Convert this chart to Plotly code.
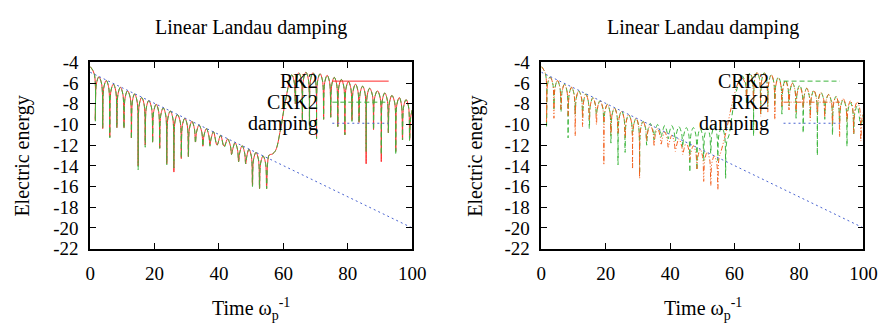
import plotly.graph_objects as go

# ---------------- data ----------------
x_ticks = [0, 20, 40, 60, 80, 100]
x_tick_text = ["0", "20", "40", "60", "80", "100"]
y_ticks = [-22, -20, -18, -16, -14, -12, -10, -8, -6, -4]
y_tick_text = ["-22", "-20", "-18", "-16", "-14", "-12", "-10", "-8", "-6", "-4"]

damp_t = [0, 100]
damp_e = [-4.95, -20.0]

# Left panel (RK2 vs CRK2) – alternating peaks / troughs
left_t = [0, 1.6, 2.7, 3.9, 5.0, 6.1, 7.2, 8.3, 9.4, 10.5,
          11.6, 12.8, 13.8, 14.9, 16.0, 17.1, 18.2, 19.4, 20.5, 21.6,
          22.7, 23.8, 24.9, 26.0, 27.1, 28.3, 29.4, 30.5, 31.6, 32.7,
          33.8, 35.0, 36.1, 37.2, 38.3, 39.4, 40.5, 41.6, 42.7, 43.9,
          45.0, 46.1, 47.2, 48.3, 49.3, 50.4, 51.5, 52.6, 53.7, 54.8,
          55.6, 56.6, 57.6, 59.1, 60.6, 62.6,
          63.7, 64.8, 65.9, 67.0, 68.1, 69.2, 70.3, 71.4, 72.5, 73.6,
          74.7, 75.8, 76.9, 78.0, 79.1, 80.2, 81.3, 82.4, 83.5, 84.6,
          85.7, 86.8, 88.0, 89.2, 90.4, 91.5, 92.6, 93.7, 94.9, 96.0,
          97.0, 98.1, 99.2, 100]
left_rk2 = [-4.4, -9.6, -5.4, -10.4, -5.75, -11.2, -6.1, -10.3, -6.4, -10.3,
            -6.75, -11.3, -7.05, -14.0, -7.4, -12.0, -7.7, -11.7, -8.05, -12.3,
            -8.4, -13.8, -8.7, -14.6, -9.05, -13.3, -9.4, -13.1, -9.7, -11.7,
            -10.05, -12.1, -10.4, -12.0, -10.7, -12.0, -11.05, -12.1, -11.4, -12.9,
            -11.75, -13.6, -12.05, -13.8, -12.4, -15.9, -12.7, -16.2, -13.05, -16.2,
            -12.95, -12.85, -12.5, -10.5, -7.8, -5.2,
            -8.0, -5.0, -9.6, -4.95, -10.2, -5.0, -11.3, -5.1, -9.5, -5.25,
            -9.3, -5.45, -10.2, -5.65, -11.0, -5.85, -9.6, -6.1, -9.8, -6.3,
            -13.8, -6.5, -10.5, -6.75, -13.6, -6.95, -10.8, -7.2, -12.6, -7.4,
            -11.5, -7.6, -11.5, -8.6]
left_crk2 = [-4.4, -9.7, -5.4, -10.3, -5.75, -11.3, -6.1, -10.3, -6.4, -10.4,
             -6.75, -11.4, -7.05, -14.4, -7.4, -12.2, -7.7, -11.8, -8.05, -12.3,
             -8.4, -13.9, -8.7, -14.2, -9.05, -13.2, -9.4, -13.1, -9.7, -11.8,
             -10.05, -12.1, -10.4, -12.1, -10.7, -12.0, -11.05, -12.2, -11.4, -12.9,
             -11.75, -13.6, -12.05, -13.8, -12.4, -16.0, -12.7, -16.2, -13.05, -16.2,
             -12.95, -12.85, -12.5, -10.5, -7.8, -5.2,
             -8.0, -5.0, -9.6, -4.95, -10.3, -5.0, -11.4, -5.1, -9.5, -5.25,
             -9.3, -5.45, -10.2, -5.65, -11.0, -5.85, -9.7, -6.1, -9.8, -6.3,
             -12.6, -6.5, -10.5, -6.75, -12.9, -6.95, -10.8, -7.2, -12.9, -7.4,
             -11.5, -7.6, -11.6, -8.6]

# Right panel
right_rk2_t = [0, 1.6, 2.7, 3.9, 5.0, 6.1, 7.2, 8.3, 9.4, 10.5,
               11.6, 12.8, 13.8, 14.9, 16.0, 17.1, 18.2, 19.4, 20.5, 21.6,
               22.7, 23.8, 24.9, 26.0, 27.1, 28.3, 29.4, 30.5, 31.6, 32.7,
               33.8, 35.0, 36.1, 37.2, 38.3, 39.4, 40.5, 41.6, 42.7, 43.9,
               45.0, 46.1, 47.2, 48.3, 49.3, 50.4, 51.5, 52.6, 53.7, 54.8,
               55.8, 57.5, 59.0, 60.5, 62.0,
               63.7, 64.8, 65.9, 67.0, 68.1, 69.2, 70.3, 71.4, 72.5, 73.6,
               74.7, 75.8, 76.9, 78.0, 79.1, 80.2, 81.3, 82.4, 83.5, 84.6,
               85.7, 86.8, 88.0, 89.2, 90.4, 91.5, 92.6, 93.7, 94.9, 96.0,
               97.0, 98.1, 99.2, 100]
right_rk2 = [-4.4, -9.8, -5.4, -9.4, -5.75, -8.6, -6.1, -9.2, -6.4, -11.1,
             -6.75, -10.2, -7.05, -9.6, -7.4, -10.0, -7.7, -13.9, -8.05, -11.0,
             -8.4, -10.9, -8.7, -11.3, -9.05, -14.3, -9.4, -15.2, -9.7, -11.6,
             -10.05, -12.1, -10.4, -11.9, -10.7, -12.2, -11.05, -12.6, -11.4, -12.9,
             -11.75, -13.4, -12.05, -14.3, -12.4, -15.5, -12.7, -15.9, -13.05, -16.3,
             -12.6, -10.5, -8.3, -6.5, -5.4,
             -7.5, -5.1, -8.5, -5.0, -9.2, -5.0, -8.8, -5.2, -9.5, -5.5,
             -8.3, -5.8, -8.6, -6.0, -8.9, -6.3, -8.4, -6.5, -9.6, -6.7,
             -9.0, -6.9, -9.3, -7.1, -10.0, -7.3, -11.2, -7.5, -9.7, -7.7,
             -10.9, -7.8, -11.6, -8.8]
right_crk2_t = [0, 1.6, 2.7, 3.9, 5.0, 6.1, 7.2, 8.3, 9.4, 10.5,
                11.6, 12.8, 13.8, 14.9, 16.0, 17.1, 18.2, 19.4, 20.5, 21.6,
                22.7, 23.8, 24.9, 26.0, 27.1, 28.3, 29.4, 30.5, 31.6, 32.7,
                33.8, 35.0, 36.1, 37.2, 38.3, 39.4, 40.5, 41.6, 42.7, 43.9,
                45.0, 46.1, 47.2, 48.3, 49.3, 50.4, 51.5, 52.6, 53.7, 54.8,
                56.0, 57.2, 58.3, 59.5, 60.8, 62.3,
                63.7, 64.8, 65.9, 67.0, 68.1, 69.2, 70.3, 71.4, 72.5, 73.6,
                74.7, 75.8, 76.9, 78.0, 79.1, 80.2, 81.3, 82.4, 83.5, 84.6,
                85.7, 86.8, 88.0, 89.2, 90.4, 91.5, 92.6, 93.7, 94.9, 96.0,
                97.0, 98.1, 99.2, 100]
right_crk2 = [-4.4, -10.3, -5.4, -8.5, -5.75, -8.8, -6.1, -11.3, -6.4, -9.0,
              -6.75, -9.2, -7.05, -10.4, -7.4, -9.0, -7.7, -9.8, -8.05, -11.8,
              -8.4, -13.9, -8.7, -12.7, -9.05, -11.0, -9.4, -14.8, -9.7, -12.0,
              -9.9, -11.5, -10.0, -11.2, -10.1, -11.4, -10.1, -11.6, -10.2, -12.2,
              -10.3, -14.6, -10.3, -14.4, -10.4, -13.5, -10.3, -12.8, -10.2, -13.5,
              -10.3, -15.2, -11.0, -8.5, -6.5, -5.3,
              -8.0, -5.0, -11.1, -4.95, -9.0, -5.0, -8.3, -5.2, -8.0, -5.4,
              -9.0, -5.7, -8.2, -6.0, -9.4, -6.2, -10.8, -6.5, -9.0, -6.7,
              -13.0, -6.9, -9.5, -7.1, -11.0, -7.3, -9.8, -7.6, -12.1, -7.9,
              -10.9, -8.2, -10.0, -9.0]

for a, b in [(left_t, left_rk2), (left_t, left_crk2),
             (right_rk2_t, right_rk2), (right_crk2_t, right_crk2)]:
    assert len(a) == len(b), (len(a), len(b))

# ---------------- style ----------------
RED = "#ff2a2a"
GREEN = "#3db53d"
BLUE = "#4a64d0"
ORANGE = "#f2601e"
FONT = "Times New Roman, Liberation Serif, serif"
DASH_GREEN = "5px,3px"
DASH_DOT = "2px,3px"
DASH_ORANGE = "5px,2px,1px,2px,1px,2px"
CUSP_HALF = 0.33   # drawing width of a cusp's narrow part (time units)
CUSP_DROP = 0.7    # how far the rounded arch falls before the narrow cusp


def cusp_path(t, e):
    """Draw the read peak/trough vertices with narrow cusps at the troughs."""
    xs, ys = [t[0]], [e[0]]
    for i in range(1, len(t) - 1):
        is_trough = e[i] < e[i - 1] - 1.0 and e[i] < e[i + 1] - 1.0
        if is_trough:
            xs += [t[i] - CUSP_HALF, t[i], t[i] + CUSP_HALF]
            ys += [e[i - 1] - CUSP_DROP, e[i], e[i + 1] - CUSP_DROP]
        else:
            xs.append(t[i])
            ys.append(e[i])
    xs.append(t[-1])
    ys.append(e[-1])
    return xs, ys


fig = go.Figure()


def add(xa, ya, t, e, color, dash, cusps=True):
    xs, ys = cusp_path(t, e) if cusps else (t, e)
    fig.add_trace(go.Scatter(
        x=xs, y=ys, mode="lines", xaxis=xa, yaxis=ya, showlegend=False,
        hoverinfo="skip",
        line=dict(color=color, dash=dash, width=1, shape="spline", smoothing=1.0)))


# left panel
add("x", "y", left_t, left_rk2, RED, "solid")
add("x", "y", left_t, left_crk2, GREEN, DASH_GREEN)
add("x", "y", damp_t, damp_e, BLUE, DASH_DOT, cusps=False)
# right panel
add("x2", "y2", right_crk2_t, right_crk2, GREEN, DASH_GREEN)
add("x2", "y2", right_rk2_t, right_rk2, ORANGE, DASH_ORANGE)
add("x2", "y2", damp_t, damp_e, BLUE, DASH_DOT, cusps=False)

tickfont = dict(family=FONT, size=19, color="black")
axis_common = dict(showline=True, linecolor="black", linewidth=1.5, mirror="ticks",
                   ticks="inside", ticklen=6, tickwidth=1, tickcolor="black",
                   showgrid=False, zeroline=False, tickfont=tickfont)

y_dom = [0.2202, 0.8287]
fig.update_layout(
    width=896, height=327, margin=dict(l=0, r=0, t=0, b=0),
    paper_bgcolor="white", plot_bgcolor="white",
    font=dict(family=FONT, color="black"),
    xaxis=dict(domain=[0.0971, 0.4643], range=[0, 100], tickvals=x_ticks,
               ticktext=x_tick_text, anchor="y", ticklabelstandoff=7, **axis_common),
    yaxis=dict(domain=y_dom, range=[-22, -4], tickvals=y_ticks, ticktext=y_tick_text,
               anchor="x", ticklabelstandoff=6, **axis_common),
    xaxis2=dict(domain=[0.6116, 0.9788], range=[0, 100], tickvals=x_ticks,
                ticktext=x_tick_text, anchor="y2", ticklabelstandoff=7, **axis_common),
    yaxis2=dict(domain=y_dom, range=[-22, -4], tickvals=y_ticks, ticktext=y_tick_text,
                anchor="x2", ticklabelstandoff=6, **axis_common),
)

txt = dict(family=FONT, size=20, color="black")
ann = []
for cx, yl in [(0.280, 18 / 896), (0.796, 481 / 896)]:
    ann.append(dict(text="Linear Landau damping", x=cx, y=1 - 19 / 327, xref="paper",
                    yref="paper", showarrow=False, xanchor="center", yanchor="middle",
                    font=txt))
    ann.append(dict(text="Electric energy", x=yl, y=1 - 156 / 327, xref="paper",
                    yref="paper", showarrow=False, textangle=-90, xanchor="center",
                    yanchor="middle", font=txt))
    ann.append(dict(text="Time ω<sub>p</sub><sup>-1</sup>", x=cx, y=1 - 319 / 327,
                    xref="paper", yref="paper", showarrow=False, xanchor="center",
                    yanchor="middle", font=txt))

# gnuplot-style keys (text on the left, sample on the right)
keys = [("x", "y", [("RK2", RED, "solid"), ("CRK2", GREEN, DASH_GREEN), ("damping", BLUE, DASH_DOT)]),
        ("x2", "y2", [("CRK2", GREEN, DASH_GREEN), ("RK2", ORANGE, DASH_ORANGE), ("damping", BLUE, DASH_DOT)])]
shapes = []
for xa, ya, rows in keys:
    for i, (label, col, dash) in enumerate(rows):
        yy = 1 - (20 + 22.5 * i) / 199
        ann.append(dict(text=label, x=0.713, y=yy, xref=f"{xa} domain", yref=f"{ya} domain",
                        showarrow=False, xanchor="right", yanchor="middle", font=txt))
        shapes.append(dict(type="line", xref=f"{xa} domain", yref=f"{ya} domain",
                           x0=0.752, x1=0.927, y0=yy, y1=yy,
                           line=dict(color=col, width=1, dash=dash)))

fig.update_layout(annotations=ann, shapes=shapes)
fig.write_html("out.html")
